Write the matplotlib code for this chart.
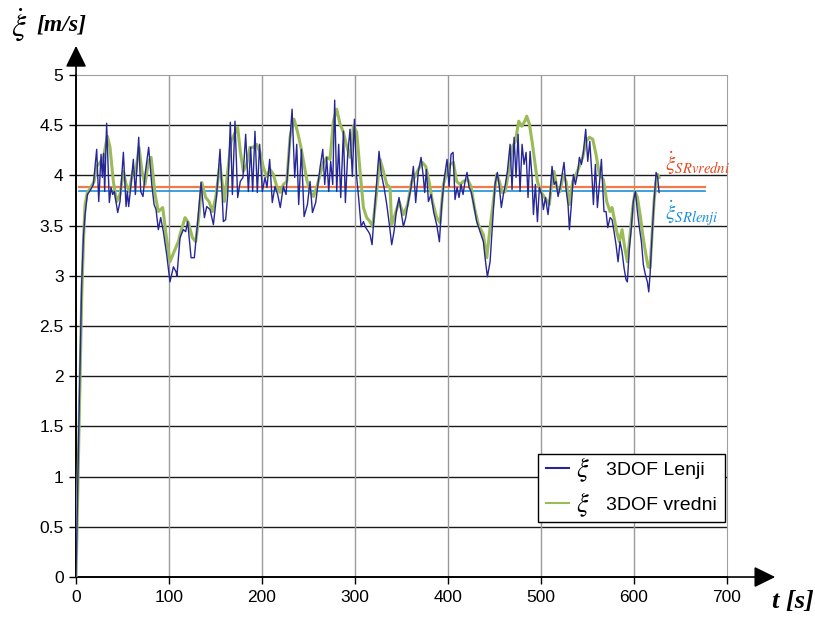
import matplotlib
matplotlib.use("Agg")
import matplotlib.pyplot as plt
from matplotlib.legend_handler import HandlerBase
from matplotlib.lines import Line2D
from matplotlib.text import Text

plt.rcParams["mathtext.fontset"] = "stix"
plt.rcParams["font.family"] = ["Liberation Sans Narrow", "Liberation Sans", "DejaVu Sans"]

# ── Data ──────────────────────────────────────────────────────────────────────
t_lenji = [0, 3, 6, 8, 9.7, 12.2, 15.8, 18.6, 22.2, 24.4, 26.9, 28.3, 29.7, 30.8, 32.9,
           35.8, 37.6, 39.4, 41.2, 44.8, 47.3, 50.9, 53.8, 55.2, 56.6, 58.8, 61.6, 63.8,
           67.4, 69.5, 72, 74.5, 78.1, 81.4, 83.9, 86, 88.5, 91, 93.9, 97.5, 101, 104.7,
           107.5, 108.5, 111.8, 115.4, 117.9, 120, 123.7, 127.2, 130.8, 134.4, 138, 140.5,
           144.1, 147.7, 151.2, 154.8, 158.4, 160.9, 163.1, 165.9, 168.1, 170.9, 173.8,
           176.6, 179.5, 182.4, 185.3, 187.8, 189.9, 192.4, 194.9, 197.4, 200.3, 203.2,
           205.3, 208.2, 211, 213.9, 216.8, 219.6, 222.9, 225.8, 228.7, 232.3, 235.1,
           237.3, 239.4, 242.3, 245.2, 248.8, 251.6, 254.2, 257.7, 262.4, 265.3, 267.4,
           269.5, 271.7, 273.8, 276, 278.1, 280.3, 282.4, 284.6, 287.5, 289.6, 292.1,
           294.6, 297.1, 299.3, 301.8, 304.3, 306.5, 309, 311.5, 314.4, 316.1, 318.3,
           320.8, 323.3, 325.8, 328.3, 331.2, 334.1, 337.3, 339.4, 341.9, 344.4, 347.3,
           349.5, 352, 354.5, 357.3, 360.2, 362.7, 365.2, 368.1, 371, 373.1, 374.9, 376.7,
           378.9, 381.7, 384.6, 387.8, 390.7, 393.2, 396.1, 398.9, 401.1, 403.2, 405.4,
           407.5, 409.7, 411.8, 414, 416.1, 418.3, 420.4, 422.6, 424.7, 427.6, 430.8,
           434.4, 438, 439.8, 442.3, 445.2, 448, 450.5, 453, 455.2, 457.3, 459.5, 461.6,
           463.8, 466.7, 468.8, 471, 473.1, 475.3, 477.4, 479.6, 481.7, 483.9, 486, 488.2,
           490.3, 491.8, 493.9, 496.1, 498.2, 500.7, 502.5, 504.7, 507.5, 509.7, 511.8,
           514, 516.1, 518.3, 520.4, 522.6, 524.7, 526.9, 529, 530.5, 532.6, 534.8, 536.9,
           539.1, 541.2, 543.4, 545.5, 548, 550.2, 552.4, 554.8, 556.3, 558.4, 560.6,
           562.7, 564.9, 566.3, 567.7, 569.9, 571.7, 574.2, 576.3, 578.5, 580.6, 582.8,
           584.9, 587.1, 589.2, 591.4, 592.8, 595, 597.1, 599.2, 601.4, 603.6, 605.7,
           607.9, 610, 612.2, 614.3, 615.8, 617.2, 619.4, 621.5, 623.7, 625.4, 626.9]
v_lenji = [0, 1.5, 2.9, 3.4, 3.61, 3.81, 3.86, 3.91, 4.26, 3.74, 4.21, 3.98, 4.22, 3.84, 4.52,
           3.73, 3.88, 3.81, 3.84, 3.63, 3.74, 4.23, 3.69, 3.84, 3.69, 3.88, 4.16, 3.81,
           4.38, 3.84, 3.79, 4.03, 4.28, 3.91, 3.71, 3.66, 3.46, 3.58, 3.44, 3.21, 2.94,
           3.09, 3.04, 3.0, 3.38, 3.46, 3.44, 3.54, 3.18, 3.18, 3.54, 3.93, 3.58, 3.69,
           3.66, 3.51, 3.81, 4.26, 3.54, 3.56, 3.81, 4.53, 3.81, 4.54, 3.78,
           3.94, 3.98, 4.41, 3.84, 4.28, 3.84, 4.44, 3.83, 4.31, 3.84, 3.98,
           3.88, 4.16, 3.73, 3.89, 3.81, 3.68, 3.89, 3.81, 4.19, 4.66, 3.98,
           4.31, 3.71, 4.26, 3.59, 3.71, 3.94, 3.63, 3.73, 4.08, 4.26, 3.91,
           4.18, 3.84, 4.14, 3.91, 4.75, 3.84, 4.31, 3.78, 4.44, 3.73, 4.21,
           4.46, 3.99, 4.56, 3.98, 3.73, 3.49, 3.54, 3.48, 3.44, 3.41, 3.31,
           3.64, 3.94, 4.24, 4.01, 3.88, 3.71, 3.48, 3.31, 3.44, 3.64, 3.78,
           3.64, 3.49, 3.58, 3.74, 3.88, 4.09, 3.73, 4.04, 4.18, 4.01, 3.83, 4.06,
           3.74, 3.81, 3.63, 3.51, 3.34, 3.71, 3.98, 4.16, 3.89, 4.21, 4.23,
           3.76, 3.88, 3.78, 3.91, 3.81, 3.94, 4.03, 3.88, 3.84, 3.71, 3.54,
           3.44, 3.34, 3.18, 2.99, 3.14, 3.54, 3.91, 4.03, 3.88, 3.68, 3.81, 3.91,
           4.04, 4.31, 3.86, 4.38, 3.98, 4.41, 3.84, 4.31, 4.11, 4.23, 3.78, 4.24,
           3.98, 3.61, 3.91, 3.54, 3.88, 3.81, 3.66, 3.78, 3.61, 3.81, 4.09,
           3.91, 3.94, 3.79, 3.88, 4.01, 4.13, 3.86, 3.71, 3.46, 3.71, 4.01, 3.91,
           4.01, 4.18, 4.11, 4.23, 4.46, 4.14, 4.34, 3.98, 3.71, 4.11, 3.68,
           3.91, 4.16, 3.88, 3.64, 3.64, 3.48, 3.58, 3.56, 3.44, 3.31, 3.14,
           3.34, 3.24, 3.08, 2.96, 2.94, 3.28, 3.48, 3.74, 3.84, 3.64, 3.48,
           3.34, 3.11, 3.01, 2.94, 2.84, 3.01, 3.41, 3.74, 4.03, 3.98, 3.83]

t_vredni = [0, 3, 6, 8, 9.7, 12.2, 15.8, 19.4, 22.2, 25.8, 29.4, 33.7, 36.5, 40.1, 43.7,
            47.3, 50.9, 53.8, 57.3, 60.9, 63.8, 67.7, 70.9, 74.2, 77.8, 80.7, 85, 88.5,
            93.2, 96.8, 101, 105.4, 110, 111.8, 117.2, 120.8, 125.1, 128.7, 132.3, 135.2,
            139.4, 143, 146.6, 150.2, 154.8, 159.5, 163.1, 166.7, 170.2, 173.8, 176.6,
            179.9, 183.4, 187, 190.6, 194.2, 197.8, 201.4, 205, 208.6, 212.2, 215.8, 219.3,
            223, 226.6, 230.1, 234.4, 238, 241.6, 245.2, 248, 251.6, 255.2, 258.8, 262.4,
            266, 269.5, 273.1, 276.7, 280.3, 283.9, 287.5, 291.1, 294.6, 298.2, 301.8,
            305.4, 309, 312.5, 316.1, 319, 323.3, 326.9, 330.5, 334.1, 337.6, 339.4, 343,
            347.3, 352, 356.6, 360.9, 364.5, 368.1, 372.4, 376, 379.6, 383.2, 387.8, 391.4,
            395, 398.6, 402.2, 405.7, 409.3, 412.9, 416.5, 421.1, 424.7, 428.3, 432.6, 438,
            441.6, 445.2, 448.7, 452.3, 455.2, 458.1, 461.6, 465.2, 468.8, 472.4, 476,
            479.2, 482.5, 484.6, 487.5, 490.3, 493.2, 496.1, 499.6, 503.2, 506.8, 508.9,
            511.5, 514, 516.8, 520.4, 524, 526.9, 530.5, 534.1, 537.6, 541.2, 544.8, 548.4,
            552, 555.6, 559.1, 562.7, 567, 570.6, 574.2, 576.3, 578.5, 581.4, 584.2, 587.1,
            590, 592.8, 595.7, 598.6, 601.1, 603.6, 606.5, 609.3, 612.2, 615.1, 617.2,
            619.4, 621.5, 623.7, 625.4, 626.9]
v_vredni = [0, 1.4, 2.75, 3.35, 3.71, 3.83, 3.88, 3.94, 4.09, 4.13, 4.18, 4.39, 4.28, 3.94,
            3.74, 3.81, 4.04, 3.91, 3.84, 4.04, 4.01, 4.28, 4.04, 3.91, 4.14, 4.18, 3.81,
            3.64, 3.68, 3.41, 3.14, 3.24, 3.34, 3.41, 3.58, 3.53, 3.38, 3.34, 3.61, 3.93,
            3.78, 3.74, 3.64, 3.78, 4.11, 3.74, 4.04, 4.34, 4.41, 4.48, 4.24,
            4.04, 4.11, 4.28, 4.28, 4.31, 4.23, 4.08, 3.99, 4.06, 4.01, 3.89, 3.83,
            3.91, 3.94, 4.38, 4.56, 4.44, 4.29, 4.11, 3.96, 3.84, 3.79, 3.88, 4.01,
            4.13, 4.18, 4.16, 4.54, 4.66, 4.51, 4.43, 4.29, 4.18, 4.49, 4.43,
            4.04, 3.68, 3.58, 3.54, 3.49, 3.84, 4.16, 4.04, 3.91, 3.88, 3.51, 3.61,
            3.74, 3.61, 3.71, 3.94, 3.99, 4.06, 4.13, 4.09, 3.94, 3.74, 3.58, 3.53,
            3.91, 4.03, 4.11, 4.13, 3.94, 3.91, 3.94, 3.96, 3.89, 3.68, 3.51, 3.41,
            3.18, 3.48, 3.74, 4.01, 3.94, 3.83, 3.84, 4.04, 4.28, 4.34, 4.54,
            4.49, 4.54, 4.59, 4.51, 4.34, 4.14, 3.94, 3.84, 3.79, 3.74, 3.71,
            3.94, 4.04, 3.88, 3.84, 4.01, 3.94, 3.71, 3.94, 4.01, 4.09, 4.18, 4.34,
            4.38, 4.36, 4.21, 4.01, 3.96, 3.74, 3.64, 3.68, 3.58, 3.44, 3.34, 3.46,
            3.28, 3.14, 3.41, 3.68, 3.84, 3.78, 3.61, 3.41, 3.24, 3.09, 3.08,
            3.41, 3.74, 3.94, 4.01, 3.98]

mean_vredni = 3.887
mean_lenji = 3.848
mean_span = [3, 676]

x_ticks = [0, 100, 200, 300, 400, 500, 600, 700]
y_ticks = [0, 0.5, 1, 1.5, 2, 2.5, 3, 3.5, 4, 4.5, 5]
y_tick_labels = ["0", "0.5", "1", "1.5", "2", "2.5", "3", "3.5", "4", "4.5", "5"]


class XiHandler(HandlerBase):
    # legend handle: short line followed by a large xi symbol
    def create_artists(self, legend, orig_handle, xdescent, ydescent, width, height,
                       fontsize, trans):
        y = height / 2 - ydescent
        line = Line2D([-xdescent, -xdescent + 0.44 * width], [y, y],
                      color=orig_handle.get_color(), lw=1.5, transform=trans)
        xi = Text(-xdescent + 0.56 * width, y - 1, r"$\xi$", fontsize=19,
                  va="center", ha="left", transform=trans)
        return [line, xi]


# ── Figure ────────────────────────────────────────────────────────────────────
fig = plt.figure(figsize=(8.15, 6.17), dpi=100)
ax = fig.add_axes([0.0933, 0.0648, 0.7988, 0.8136])

ax.set_xlim(0, 700)
ax.set_ylim(0, 5)

for y in y_ticks[1:-1]:
    ax.axhline(y, color="#1a1a1a", lw=1.0, zorder=1)
for x in x_ticks[1:-1]:
    ax.axvline(x, color="#9a9a9a", lw=1.0, zorder=1)

ax.plot(mean_span, [mean_vredni] * 2, color="#f27a4a", lw=1.6, zorder=3)
ax.plot(mean_span, [mean_lenji] * 2, color="#1e8fd4", lw=1.2, zorder=3)

ln_v, = ax.plot(t_vredni, v_vredni, color="#9bbb59", lw=2.2, zorder=4,
                solid_joinstyle="round")
ln_l, = ax.plot(t_lenji, v_lenji, color="#262699", lw=1.0, zorder=5)

ax.text(633, 4.12, r"$\dot{\xi}_{SRvredni}$", color="#e8481c", fontsize=15, va="center")
ax.text(633, 3.62, r"$\dot{\xi}_{SRlenji}$", color="#1a8fd8", fontsize=15, va="center")

# spines
for side in ["top", "right"]:
    ax.spines[side].set_color("#a0a0a0")
for side in ["left", "bottom"]:
    ax.spines[side].set_color("black")
    ax.spines[side].set_linewidth(1.2)

ax.set_xticks(x_ticks)
ax.set_yticks(y_ticks)
ax.set_yticklabels(y_tick_labels)
ax.tick_params(direction="out", length=5, width=1, labelsize=12.5, colors="black", pad=4)

# axis arrows
ax.annotate("", xy=(0, 1.058), xytext=(0, 0), xycoords="axes fraction",
            arrowprops=dict(arrowstyle="-|>,head_length=0.65,head_width=0.32",
                            color="black", lw=1.2, mutation_scale=20, shrinkA=0, shrinkB=0))
ax.annotate("", xy=(1.074, 0), xytext=(0, 0), xycoords="axes fraction",
            arrowprops=dict(arrowstyle="-|>,head_length=0.65,head_width=0.32",
                            color="black", lw=1.2, mutation_scale=20, shrinkA=0, shrinkB=0))

# axis titles
fig.text(0.014, 0.958, r"$\dot{\xi}$", fontsize=23, va="center", ha="left")
fig.text(0.045, 0.960, "[m/s]", fontsize=17, fontweight="bold", style="italic",
         family="Liberation Serif", va="center", ha="left")
fig.text(0.998, 0.025, "t [s]", fontsize=19, fontweight="bold", style="italic",
         family="Liberation Serif", va="center", ha="right")

leg = ax.legend([ln_l, ln_v], ["3DOF Lenji", "3DOF vredni"], loc="lower right",
                bbox_to_anchor=(0.997, 0.11), borderaxespad=0, fontsize=14,
                fancybox=False, edgecolor="black", framealpha=1, handlelength=2.7,
                handletextpad=0.4, borderpad=0.4, labelspacing=0.9,
                handler_map={Line2D: XiHandler()})
leg.get_frame().set_linewidth(1.0)

fig.savefig("out.png", dpi=100)
